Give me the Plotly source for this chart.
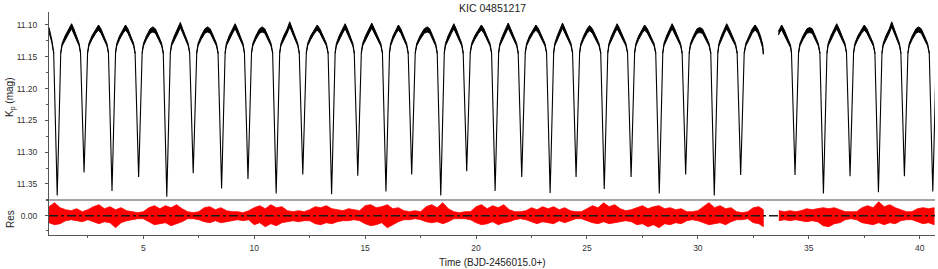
import plotly.graph_objects as go

# ---------------- text ----------------
title_text = "KIC 04851217"
x_title = "Time (BJD-2456015.0+)"
y_title = "K<sub>p</sub> (mag)"
res_title = "Res"

# ---------------- ticks ----------------
x_ticks = [5, 10, 15, 20, 25, 30, 35, 40]
mag_ticks = [11.10, 11.15, 11.20, 11.25, 11.30, 11.35]
mag_tick_labels = ["11.10", "11.15", "11.20", "11.25", "11.30", "11.35"]
res_ticks = [0.0]
res_tick_labels = ["0.00"]

# ---------------- light curve ----------------
# times (days) and magnitudes of the eclipse minima
ecl_t = [1.12, 2.33, 3.59, 4.79, 6.06, 7.25, 8.53, 9.72, 10.99, 12.19,
         13.49, 14.67, 15.94, 17.10, 18.41, 19.58, 20.86, 22.06, 23.34, 24.51,
         25.78, 26.99, 28.26, 29.45, 30.74, 31.93, 34.38, 35.66, 36.86, 38.14,
         39.31, 40.59]
ecl_min = [11.368, 11.332, 11.361, 11.339, 11.370, 11.333, 11.357, 11.342, 11.365, 11.335,
           11.366, 11.337, 11.362, 11.335, 11.368, 11.330, 11.361, 11.339, 11.364, 11.339,
           11.358, 11.339, 11.365, 11.335, 11.368, 11.336, 11.336, 11.365, 11.338, 11.363,
           11.338, 11.362]
ooe_level = 11.143
ecl_dt = [-0.16, -0.11, -0.05, 0.0, 0.05, 0.11, 0.16]
ecl_frac = [0.0, 0.32, 0.70, 1.0, 0.70, 0.32, 0.0]

# out-of-eclipse humps (peak time, peak magnitude = top of the band)
hump_peak_t = [1.77, 2.98, 4.20, 5.43, 6.67, 7.90, 9.14, 10.36, 11.60, 12.84,
               14.10, 15.30, 16.50, 17.80, 19.00, 20.24, 21.45, 22.70, 23.90, 25.12,
               26.36, 27.60, 28.84, 30.08, 31.30, 35.04, 36.26, 37.50, 38.74, 39.95]
hump_peak_mag = [11.098, 11.100, 11.100, 11.103, 11.096, 11.103, 11.098, 11.103, 11.095, 11.100,
                 11.098, 11.097, 11.100, 11.103, 11.098, 11.100, 11.097, 11.100, 11.097, 11.101,
                 11.098, 11.100, 11.098, 11.104, 11.098, 11.104, 11.098, 11.100, 11.095, 11.103]
hump_left_frac = [0.0, 0.12, 0.4, 0.75]
hump_left_top = [11.143, 11.129, 11.117, 11.106]
hump_left_thick = [0.0015, 0.004, 0.006, 0.007]
hump_peak_thick = 0.008
hump_right_frac = [0.25, 0.55, 0.85, 1.0]
hump_right_top = [11.106, 11.117, 11.129, 11.143]
hump_right_thick = [0.007, 0.006, 0.004, 0.0015]

# start of the data and the two pieces around the data gap (time, top, thickness)
lead_t = [0.75, 0.80, 0.88, 0.96]
lead_top = [11.104, 11.112, 11.124, 11.143]
lead_thick = [0.007, 0.006, 0.004, 0.0015]
pre_gap_t = [32.09, 32.16, 32.31, 32.45, 32.58, 32.70, 32.82, 32.92, 32.95]
pre_gap_top = [11.143, 11.129, 11.117, 11.106, 11.100, 11.106, 11.117, 11.130, 11.140]
pre_gap_thick = [0.0015, 0.004, 0.006, 0.007, 0.008, 0.007, 0.007, 0.006, 0.006]
post_gap_t = [33.63, 33.70, 33.78, 33.90, 34.05, 34.18, 34.22]
post_gap_top = [11.110, 11.104, 11.100, 11.108, 11.120, 11.132, 11.143]
post_gap_thick = [0.006, 0.007, 0.008, 0.007, 0.006, 0.004, 0.0015]

# ---------------- residuals envelope (mmag) ----------------
res_start_a, res_step, res_n_a, res_end_a = 0.75, 0.25, 129, 32.95
res_up_a = [9, 13, 8, 6, 5, 7, 4, 6, 9, 11,
            7, 9, 6, 8, 5, 4, 3, 4, 8, 10,
            7, 10, 8, 11, 7, 4, 3, 4, 8, 9,
            6, 8, 5, 4, 4, 3, 5, 8, 10, 7,
            11, 8, 9, 5, 4, 5, 4, 6, 9, 8,
            10, 7, 6, 5, 7, 6, 5, 10, 11, 8,
            9, 11, 7, 8, 5, 4, 5, 4, 9, 11,
            8, 13, 7, 4, 3, 4, 4, 9, 11, 7,
            10, 8, 11, 6, 4, 4, 5, 8, 6, 9,
            7, 9, 6, 8, 5, 4, 4, 7, 10, 8,
            13, 9, 11, 7, 5, 6, 8, 10, 7, 9,
            10, 7, 8, 6, 7, 4, 4, 5, 9, 13,
            8, 10, 7, 8, 4, 3, 4, 8, 9,
            6]
res_lo_a = [7, 9, 8, 5, 4, 5, 6, 4, 6, 8,
            6, 7, 12, 7, 5, 4, 3, 3, 6, 9,
            8, 7, 10, 8, 6, 3, 3, 4, 6, 7,
            5, 7, 6, 5, 4, 5, 4, 9, 7, 11,
            8, 10, 7, 6, 5, 6, 5, 5, 8, 9,
            7, 8, 6, 5, 5, 4, 5, 8, 10, 9,
            7, 12, 9, 6, 4, 4, 3, 4, 6, 7,
            6, 8, 6, 3, 3, 3, 4, 7, 9, 8,
            6, 9, 7, 6, 4, 3, 4, 6, 8, 6,
            7, 8, 5, 7, 5, 3, 3, 5, 7, 8,
            6, 8, 7, 6, 5, 6, 9, 8, 11, 9,
            12, 8, 9, 7, 8, 5, 4, 5, 7, 9,
            8, 7, 9, 6, 4, 4, 3, 7, 8,
            11]
res_start_b, res_n_b = 33.65, 29
res_up_b = [5, 4, 5, 4, 5, 7, 6, 7, 8, 7, 8, 6, 4, 4, 4, 8, 10, 8, 14, 9, 11, 8, 6, 4, 4, 7, 8, 7, 8]
res_lo_b = [5, 4, 5, 4, 5, 6, 5, 6, 10, 11, 8, 7, 4, 3, 4, 7, 8, 9, 7, 9, 7, 8, 5, 4, 4, 6, 8, 7, 9]

x_range = [0.75, 40.69]
mag_range = [11.3752, 11.0796]
res_range = [-0.0193, 0.0157]

# ---------------- build traces ----------------
hump_x, hump_y = [], []


def add_band(ts, tops, thicks):
    ts = list(ts)
    xs = ts + ts[::-1]
    ys = list(tops) + [t + d for t, d in zip(tops, thicks)][::-1]
    hump_x.extend(xs + [None])
    hump_y.extend(ys + [None])


add_band(lead_t, lead_top, lead_thick)
j = 0
for i in range(len(ecl_t) - 1):
    a = ecl_t[i] + ecl_dt[-1]
    b = ecl_t[i + 1] + ecl_dt[0]
    if ecl_t[i + 1] - ecl_t[i] > 2.0:
        add_band(pre_gap_t, pre_gap_top, pre_gap_thick)
        add_band(post_gap_t, post_gap_top, post_gap_thick)
        continue
    tp, pm = hump_peak_t[j], hump_peak_mag[j]
    j += 1
    ts = [a + f * (tp - a) for f in hump_left_frac] + [tp] + [tp + f * (b - tp) for f in hump_right_frac]
    tops = hump_left_top + [pm] + hump_right_top
    thicks = hump_left_thick + [hump_peak_thick] + hump_right_thick
    add_band(ts, tops, thicks)

ecl_x, ecl_y = [], []
for tm, mm in zip(ecl_t, ecl_min):
    ecl_x.extend([tm + d for d in ecl_dt] + [None])
    ecl_y.extend([ooe_level + f * (mm - ooe_level) for f in ecl_frac] + [None])


def res_band(t0, n, up, lo, t_end=None):
    ts = [t0 + res_step * k for k in range(n)]
    if t_end is not None:
        ts.append(t_end)
    xs = ts + ts[::-1]
    ys = [u * 0.001 for u in up] + [-l * 0.001 for l in lo][::-1]
    return xs, ys


bx_a, by_a = res_band(res_start_a, res_n_a, res_up_a, res_lo_a, res_end_a)
bx_b, by_b = res_band(res_start_b, res_n_b, res_up_b, res_lo_b)

FONT = "Liberation Sans, Arial, sans-serif"
fig = go.Figure()
for bx, by in [(bx_a, by_a), (bx_b, by_b)]:
    fig.add_trace(go.Scatter(x=bx, y=by, mode="lines", fill="toself", fillcolor="#ff0000",
                             line=dict(color="#ff0000", width=0.8), xaxis="x", yaxis="y",
                             hoverinfo="skip"))
fig.add_trace(go.Scatter(x=x_range, y=[0, 0], mode="lines",
                         line=dict(color="#1a1a1a", width=1.4, dash="dashdot"),
                         xaxis="x", yaxis="y", hoverinfo="skip"))
fig.add_trace(go.Scatter(x=hump_x, y=hump_y, mode="lines", fill="toself", fillcolor="black",
                         line=dict(color="black", width=1.0),
                         xaxis="x2", yaxis="y2", connectgaps=False, hoverinfo="skip"))
fig.add_trace(go.Scatter(x=ecl_x, y=ecl_y, mode="lines", line=dict(color="black", width=1.1),
                         xaxis="x2", yaxis="y2", connectgaps=False, hoverinfo="skip"))

dom_split = 35.0 / 223.0
axis_common = dict(showgrid=False, zeroline=False, showline=True, linecolor="#555", linewidth=1,
                   ticks="outside", ticklen=3, tickcolor="#555",
                   tickfont=dict(family=FONT, size=8.5, color="#333"))

fig.update_layout(
    width=938, height=269,
    margin=dict(l=49, r=3, t=12, b=34),
    paper_bgcolor="white", plot_bgcolor="white",
    showlegend=False,
    font=dict(family=FONT, color="#222"),
    xaxis=dict(domain=[0, 1], anchor="y", range=x_range, tickmode="array", tickvals=x_ticks,
               minor=dict(dtick=2.5, tick0=0, ticks="outside", ticklen=2, tickcolor="#555"),
               ticklabelstandoff=2, **axis_common),
    xaxis2=dict(domain=[0, 1], anchor="y2", matches="x", range=x_range, showticklabels=False,
                ticks="", showline=False, showgrid=False, zeroline=False),
    yaxis=dict(domain=[0, dom_split], range=res_range, tickmode="array", tickvals=res_ticks,
               ticktext=res_tick_labels,
               minor=dict(tickmode="array", tickvals=[-0.015, 0.015], ticks="outside", ticklen=2,
                          tickcolor="#555"),
               ticklabelstandoff=6, **axis_common),
    yaxis2=dict(domain=[dom_split, 1], range=mag_range, tickmode="array", tickvals=mag_ticks,
                ticktext=mag_tick_labels,
                minor=dict(dtick=0.025, tick0=11.10, ticks="outside", ticklen=2, tickcolor="#555"),
                ticklabelstandoff=6, **axis_common),
    shapes=[dict(type="line", xref="paper", yref="paper", x0=0, x1=1, y0=dom_split, y1=dom_split,
                 line=dict(color="#8a8a8a", width=1.3))],
    annotations=[
        dict(text=title_text, xref="paper", yref="paper", x=0.5, y=(235 - 7.5) / 223.0,
             xanchor="center", yanchor="middle", showarrow=False,
             font=dict(family=FONT, size=10.5, color="#222")),
        dict(text=x_title, xref="paper", yref="paper", x=(492 - 49) / 886.0, y=(235 - 262.5) / 223.0,
             xanchor="center", yanchor="middle", showarrow=False,
             font=dict(family=FONT, size=10, color="#222")),
        dict(text=y_title, xref="paper", yref="paper", x=(10 - 49) / 886.0, y=(235 - 98) / 223.0,
             xanchor="center", yanchor="middle", showarrow=False, textangle=-90,
             font=dict(family=FONT, size=10, color="#222")),
        dict(text=res_title, xref="paper", yref="paper", x=(10 - 49) / 886.0, y=(235 - 219) / 223.0,
             xanchor="center", yanchor="middle", showarrow=False, textangle=-90,
             font=dict(family=FONT, size=10, color="#222")),
    ],
)

fig.write_html("out.html", config={"displayModeBar": False},
               post_script="document.body.style.margin='0';document.body.style.overflow='hidden';")
